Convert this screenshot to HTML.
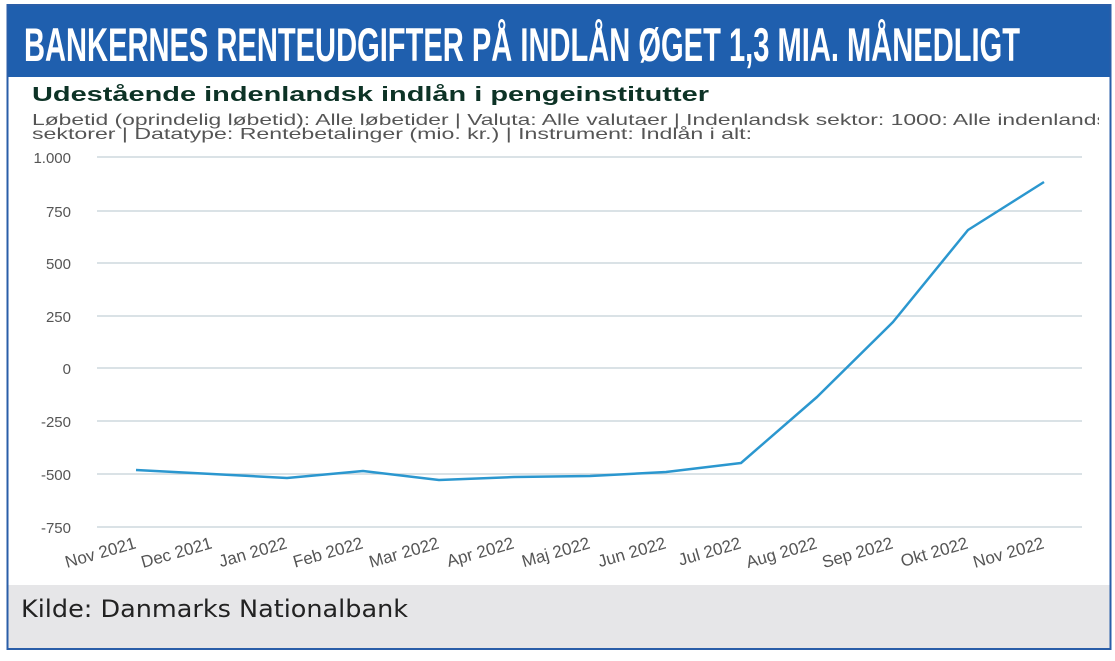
<!DOCTYPE html>
<html><head><meta charset="utf-8"><style>
body{margin:0;width:1115px;height:656px;background:#fff;overflow:hidden;font-family:"Liberation Sans",sans-serif}
</style></head><body>
<svg width="1115" height="656" xmlns="http://www.w3.org/2000/svg" font-family="Liberation Sans, sans-serif">
<rect x="0" y="0" width="1115" height="656" fill="#fff"/>
<rect x="7" y="5" width="1104" height="72" fill="#1f5fae"/>
<text x="24" y="61" fill="#fff" font-size="47" font-weight="bold" font-family="Liberation Sans Narrow, Liberation Sans, sans-serif" textLength="996" lengthAdjust="spacingAndGlyphs">BANKERNES RENTEUDGIFTER PÅ INDLÅN ØGET 1,3 MIA. MÅNEDLIGT</text>
<rect x="7" y="585" width="1104" height="64" fill="#e6e6e8"/>
<rect x="7.5" y="5" width="1103" height="644" fill="none" stroke="#2a5ea8" stroke-width="2"/>
<text x="32" y="101" fill="#0d3326" font-size="20" font-weight="bold" textLength="677" lengthAdjust="spacingAndGlyphs">Udestående indenlandsk indlån i pengeinstitutter</text>
<svg x="0" y="0" width="1099" height="160">
<text x="32" y="125" fill="#555" font-size="16" textLength="1100" lengthAdjust="spacingAndGlyphs">Løbetid (oprindelig løbetid): Alle løbetider | Valuta: Alle valutaer | Indenlandsk sektor: 1000: Alle indenlandske</text>
</svg>
<text x="32" y="139" fill="#555" font-size="16" textLength="720" lengthAdjust="spacingAndGlyphs">sektorer | Datatype: Rentebetalinger (mio. kr.) | Instrument: Indlån i alt:</text>
<g stroke="#c4d0d6" stroke-width="1.3">
<line x1="97" x2="1082" y1="157" y2="157"/><line x1="97" x2="1082" y1="211" y2="211"/>
<line x1="97" x2="1082" y1="263" y2="263"/><line x1="97" x2="1082" y1="316" y2="316"/>
<line x1="97" x2="1082" y1="368" y2="368"/><line x1="97" x2="1082" y1="421" y2="421"/>
<line x1="97" x2="1082" y1="474" y2="474"/><line x1="97" x2="1082" y1="527" y2="527"/>
</g>
<g fill="#555" font-size="15" text-anchor="end">
<text x="71" y="163">1.000</text><text x="71" y="217">750</text><text x="71" y="269">500</text>
<text x="71" y="322">250</text><text x="71" y="374">0</text><text x="71" y="427">-250</text>
<text x="71" y="480">-500</text><text x="71" y="533">-750</text>
</g>
<polyline fill="none" stroke="#2b97cf" stroke-width="2.5" stroke-linejoin="round" points="136,470 212,474 287,478 363,471 439,480 514,477 590,476 666,472 741,463 817,397 893,322 968,230 1044,182"/>
<g fill="#555" font-size="17" text-anchor="end">
<text transform="translate(137,548) rotate(-16)">Nov 2021</text>
<text transform="translate(213,548) rotate(-16)">Dec 2021</text>
<text transform="translate(288,548) rotate(-16)">Jan 2022</text>
<text transform="translate(364,548) rotate(-16)">Feb 2022</text>
<text transform="translate(440,548) rotate(-16)">Mar 2022</text>
<text transform="translate(515,548) rotate(-16)">Apr 2022</text>
<text transform="translate(591,548) rotate(-16)">Maj 2022</text>
<text transform="translate(667,548) rotate(-16)">Jun 2022</text>
<text transform="translate(742,548) rotate(-16)">Jul 2022</text>
<text transform="translate(818,548) rotate(-16)">Aug 2022</text>
<text transform="translate(894,548) rotate(-16)">Sep 2022</text>
<text transform="translate(969,548) rotate(-16)">Okt 2022</text>
<text transform="translate(1045,548) rotate(-16)">Nov 2022</text>
</g>
<text x="21" y="617" fill="#222" font-size="24" font-family="DejaVu Sans, sans-serif" textLength="387" lengthAdjust="spacingAndGlyphs">Kilde: Danmarks Nationalbank</text>
</svg>
</body></html>
